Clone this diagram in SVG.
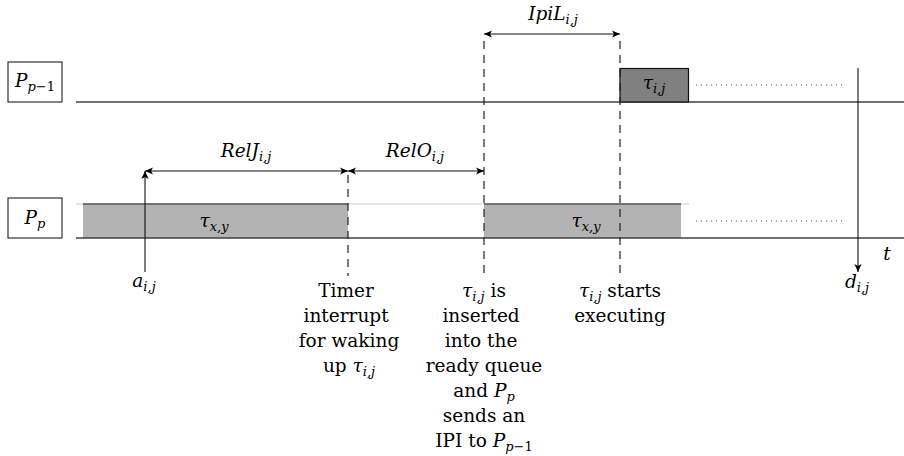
<svg xmlns="http://www.w3.org/2000/svg" width="904" height="456" viewBox="0 0 904 456" font-family="DejaVu Serif, serif">
<defs>
<style>
.t{font-size:18.5px;fill:#000}
.m{font-style:italic}
.s{font-size:13px;font-style:italic}
.sr{font-size:13px;font-style:normal}
.lane{stroke:#404040;stroke-width:1.4;fill:none}
.lbl{fill:#fff;stroke:#333;stroke-width:1.2}
.dash{stroke:#222;stroke-width:1.2;stroke-dasharray:8 6;fill:none}
.dot{stroke:#444;stroke-width:1;stroke-dasharray:1 4;fill:none}
.arr{stroke:#111;stroke-width:1.1;fill:none}
</style>
<marker id="ah" viewBox="0 0 10 10" refX="10" refY="5" markerWidth="9" markerHeight="8" markerUnits="userSpaceOnUse" orient="auto-start-reverse">
<path d="M0,0.5 L10,5 L0,9.5 L2.5,5 Z" fill="#000"/>
</marker>
</defs>
<rect width="904" height="456" fill="#fff"/>

<g id="lane-pp1">
<rect class="lbl" x="8" y="62" width="54" height="40"/>
<text class="t" x="35" y="87" text-anchor="middle"><tspan class="m">P</tspan><tspan class="sr" dy="4"><tspan font-style="italic">p</tspan>−1</tspan></text>
<line class="lane" x1="76" y1="102" x2="904" y2="102"/>
</g>

<g id="lane-pp">
<rect class="lbl" x="8" y="198" width="54" height="40"/>
<text class="t" x="35" y="224" text-anchor="middle"><tspan class="m">P</tspan><tspan class="s" dy="4">p</tspan></text>
<line x1="76" y1="204" x2="689" y2="204" stroke="#c8c8c8" stroke-width="1"/>
</g>

<g id="task-xy-1">
<rect x="83" y="204" width="265" height="34" fill="#b3b3b3"/>
<line x1="83" y1="204" x2="348" y2="204" stroke="#555" stroke-width="1.4"/>
<text class="t" x="214" y="227" text-anchor="middle"><tspan class="m">τ</tspan><tspan class="s" dy="4">x,y</tspan></text>
</g>

<g id="task-xy-2">
<rect x="484" y="204" width="197" height="34" fill="#b3b3b3"/>
<line x1="484" y1="204" x2="681" y2="204" stroke="#555" stroke-width="1.4"/>
<text class="t" x="586" y="227" text-anchor="middle"><tspan class="m">τ</tspan><tspan class="s" dy="4">x,y</tspan></text>
</g>

<g id="task-ij">
<rect x="620" y="68.5" width="68.5" height="33.5" fill="#808080" stroke="#111" stroke-width="1.2"/>
<text class="t" x="654" y="89" text-anchor="middle"><tspan class="m">τ</tspan><tspan class="s" dy="4">i,j</tspan></text>
</g>

<g id="axis">
<line class="lane" x1="76" y1="238" x2="904" y2="238"/>
<text class="t m" x="887" y="260" text-anchor="middle">t</text>
</g>

<g id="connectors">
<line class="dot" x1="696" y1="85" x2="844" y2="85"/>
<line class="dot" x1="696" y1="221" x2="844" y2="221"/>
<line class="dash" x1="348" y1="175" x2="348" y2="276"/>
<line class="dash" x1="484" y1="41" x2="484" y2="276"/>
<line class="dash" x1="620" y1="41" x2="620" y2="276"/>
<line class="arr" x1="145" y1="272" x2="145" y2="171" marker-end="url(#ah)"/>
<line class="arr" x1="858" y1="68" x2="858" y2="272" marker-end="url(#ah)"/>
<line class="arr" x1="145" y1="171" x2="348" y2="171" marker-start="url(#ah)" marker-end="url(#ah)"/>
<line class="arr" x1="348" y1="171" x2="484" y2="171" marker-start="url(#ah)" marker-end="url(#ah)"/>
<line class="arr" x1="484" y1="34" x2="620" y2="34" marker-start="url(#ah)" marker-end="url(#ah)"/>
</g>

<g id="label-relj">
<text class="t" x="246" y="157" text-anchor="middle"><tspan class="m">RelJ</tspan><tspan class="s" dy="4">i,j</tspan></text>
</g>
<g id="label-relo">
<text class="t" x="415" y="157" text-anchor="middle"><tspan class="m">RelO</tspan><tspan class="s" dy="4">i,j</tspan></text>
</g>
<g id="label-ipil">
<text class="t" x="553" y="20" text-anchor="middle"><tspan class="m">IpiL</tspan><tspan class="s" dy="4">i,j</tspan></text>
</g>

<g id="label-a">
<text class="t" x="144" y="287" text-anchor="middle"><tspan class="m">a</tspan><tspan class="s" dy="4">i,j</tspan></text>
</g>
<g id="label-d">
<text class="t" x="857" y="288" text-anchor="middle"><tspan class="m">d</tspan><tspan class="s" dy="4">i,j</tspan></text>
</g>

<g id="label-timer">
<text class="t" text-anchor="middle">
<tspan x="349" y="297">Timer</tspan>
<tspan x="349" y="322">interrupt</tspan>
<tspan x="349" y="347">for waking</tspan>
</text>
<text class="t" x="349" y="372" text-anchor="middle">up <tspan class="m">τ</tspan><tspan class="s" dy="4">i,j</tspan></text>
</g>

<g id="label-inserted">
<text class="t" x="484" y="297" text-anchor="middle"><tspan class="m">τ</tspan><tspan class="s" dy="4">i,j</tspan><tspan dy="-4"> is</tspan></text>
<text class="t" text-anchor="middle">
<tspan x="484" y="322">inserted</tspan>
<tspan x="484" y="347">into the</tspan>
<tspan x="484" y="372">ready queue</tspan>
</text>
<text class="t" x="484" y="397" text-anchor="middle">and <tspan class="m">P</tspan><tspan class="s" dy="4">p</tspan></text>
<text class="t" x="484" y="422" text-anchor="middle">sends an</text>
<text class="t" x="484" y="447" text-anchor="middle">IPI to <tspan class="m">P</tspan><tspan class="sr" dy="4"><tspan font-style="italic">p</tspan>−1</tspan></text>
</g>

<g id="label-starts">
<text class="t" x="620" y="297" text-anchor="middle"><tspan class="m">τ</tspan><tspan class="s" dy="4">i,j</tspan><tspan dy="-4"> starts</tspan></text>
<text class="t" x="620" y="322" text-anchor="middle">executing</text>
</g>
</svg>
